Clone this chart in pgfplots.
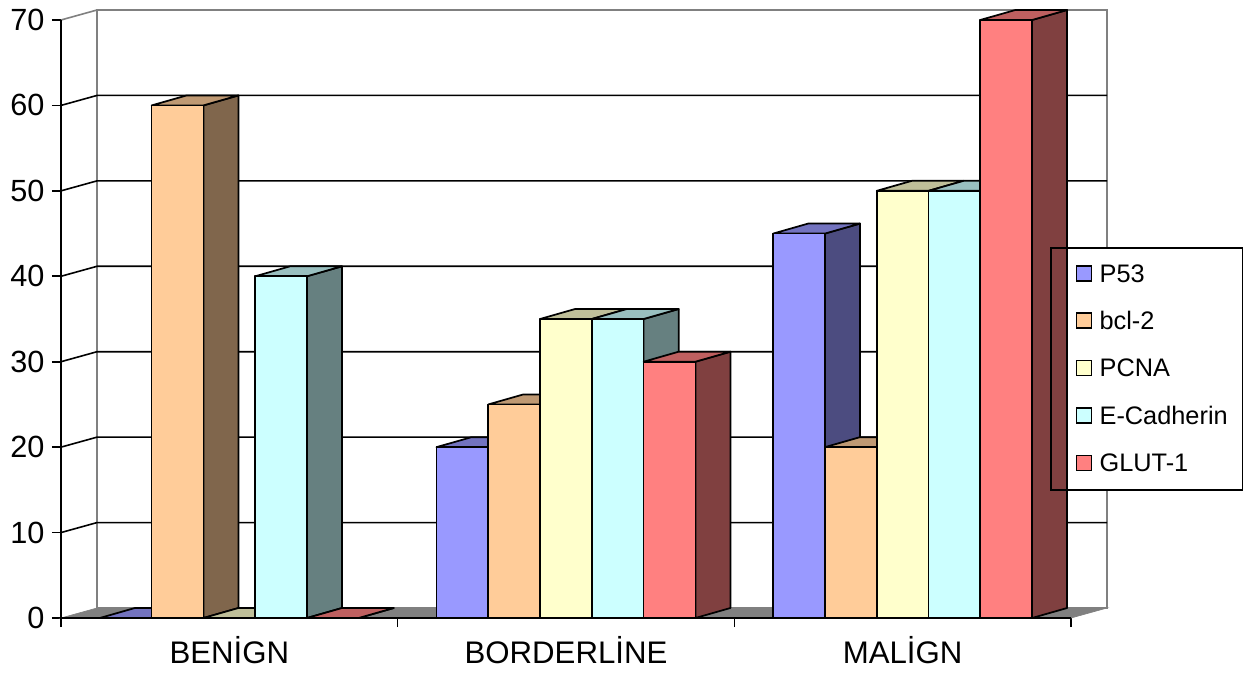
\documentclass[border=0pt]{standalone}
\usepackage{pgfplots}
\pgfplotsset{compat=1.18}
\usepackage{fontspec}
\setmainfont{Liberation Sans}

% series colours (front faces); tops and sides are darker shades of these
\definecolor{sPA}{HTML}{9999FF}
\definecolor{sBC}{HTML}{FFCC99}
\definecolor{sPC}{HTML}{FFFFCC}
\definecolor{sEC}{HTML}{CCFFFF}
\definecolor{sGL}{HTML}{FF8080}
\definecolor{wallgray}{HTML}{808080}

\newcommand{\barwd}{0.1538}
\newcommand{\bargap}{0.1154}
\newcommand{\depthx}{0.104}
\newcommand{\depthy}{1.17}
\newcommand{\wallx}{0.107}

% one 3D column: group index, position within group, value, colour
\newcommand{\column}[4]{%
  \pgfmathsetmacro\xa{#1+\bargap+#2*\barwd}%
  \pgfmathsetmacro\xb{\xa+\barwd}%
  \pgfmathsetmacro\xc{\xa+\depthx}%
  \pgfmathsetmacro\xd{\xb+\depthx}%
  \pgfmathsetmacro\yt{#3+\depthy}%
  \addplot[forget plot,fill=#4!50!black,draw=black,line width=1.3pt,line join=round]
    coordinates {(\xb,0) (\xb,#3) (\xd,\yt) (\xd,\depthy)} --cycle;
  \addplot[forget plot,fill=#4!75!black,draw=black,line width=1.3pt,line join=round]
    coordinates {(\xa,#3) (\xb,#3) (\xd,\yt) (\xc,\yt)} --cycle;
  \addplot[forget plot,fill=#4,draw=black,line width=1.3pt,line join=round]
    coordinates {(\xa,0) (\xa,#3) (\xb,#3) (\xb,0)} --cycle;
}
% gridline across the side wall and the back wall
\newcommand{\gridline}[1]{%
  \pgfmathsetmacro\yt{#1+\depthy}%
  \addplot[forget plot,black,line width=1.2pt]
    coordinates {(0,#1) (\wallx,\yt) (3.107,\yt)};
}

\begin{document}
\begin{tikzpicture}
\useasboundingbox (-45.75pt,-40.5pt) rectangle (894pt,463.5pt);
\begin{axis}[
  scale only axis,
  width=784.5pt,
  height=456pt,
  xmin=0, xmax=3.107,
  ymin=0, ymax=71.17,
  clip=false,
  axis lines=left,
  axis line style={draw=none,-},
  xtick={0,1,2,3},
  xticklabels={BENİGN,BORDERLİNE,MALİGN},
  x tick label as interval,
  ytick={0,10,20,30,40,50,60,70},
  tick align=outside,
  major tick length=6.75pt,
  tick style={black,line width=1.2pt},
  yticklabel style={inner sep=0pt,xshift=-5.5pt,font=\fontsize{23}{27}\selectfont},
  xticklabel style={inner sep=0pt,yshift=-6.5pt,font=\fontsize{23.4}{27}\selectfont},
  /pgf/number format/assume math mode=true,
  legend image code/.code={
    \path (0,0) (35.25pt,0);
    \draw[#1,draw=black,line width=1.2pt] (18.5pt,1pt) rectangle (29.75pt,12.2pt);
  },
  legend style={
    at={(0.9455,0.6102)},
    anchor=north west,
    fill=none,
    draw=black,
    line width=1.3pt,
    inner xsep=0pt,
    inner ysep=12.85pt,
    row sep=22.1pt,
    font=\fontsize{19}{22}\selectfont,
    nodes={inner sep=0pt,text height=12.75pt,text depth=0pt,anchor=base west},
  },
  legend cell align=left,
]
% back wall, floor, side wall edge
\addplot[forget plot,wallgray,line width=1.2pt,fill=white]
  coordinates {(\wallx,\depthy) (\wallx,71.17) (3.107,71.17) (3.107,\depthy)} --cycle;
\addplot[forget plot,wallgray,line width=1.2pt]
  coordinates {(0,70) (\wallx,71.17)};
\addplot[forget plot,fill=wallgray,draw=wallgray,line width=0.5pt]
  coordinates {(0,0) (\wallx,\depthy) (3.107,\depthy) (3,0)} --cycle;

\gridline{10}
\gridline{20}
\gridline{30}
\gridline{40}
\gridline{50}
\gridline{60}

% legend panel behind the columns
\addplot[forget plot,fill=white,draw=none]
  coordinates {(2.9376,15.1) (2.9376,43.43) (3.12,43.43) (3.12,15.1)} --cycle;

% BENİGN
\column{0}{0}{0}{sPA}
\column{0}{1}{60}{sBC}
\column{0}{2}{0}{sPC}
\column{0}{3}{40}{sEC}
\column{0}{4}{0}{sGL}
% BORDERLİNE
\column{1}{0}{20}{sPA}
\column{1}{1}{25}{sBC}
\column{1}{2}{35}{sPC}
\column{1}{3}{35}{sEC}
\column{1}{4}{30}{sGL}
% MALİGN
\column{2}{0}{45}{sPA}
\column{2}{1}{20}{sBC}
\column{2}{2}{50}{sPC}
\column{2}{3}{50}{sEC}
\column{2}{4}{70}{sGL}

% axis lines
\addplot[forget plot,black,line width=1.3pt] coordinates {(0,70) (0,0) (3,0)};

\addlegendimage{fill=sPA}
\addlegendentry{\makebox[107.25pt][l]{P53}}
\addlegendimage{fill=sBC}
\addlegendentry{\makebox[107.25pt][l]{bcl-2}}
\addlegendimage{fill=sPC}
\addlegendentry{\makebox[107.25pt][l]{PCNA}}
\addlegendimage{fill=sEC}
\addlegendentry{\makebox[107.25pt][l]{E-Cadherin}}
\addlegendimage{fill=sGL}
\addlegendentry{\makebox[107.25pt][l]{GLUT-1}}
\end{axis}
\end{tikzpicture}
\end{document}
